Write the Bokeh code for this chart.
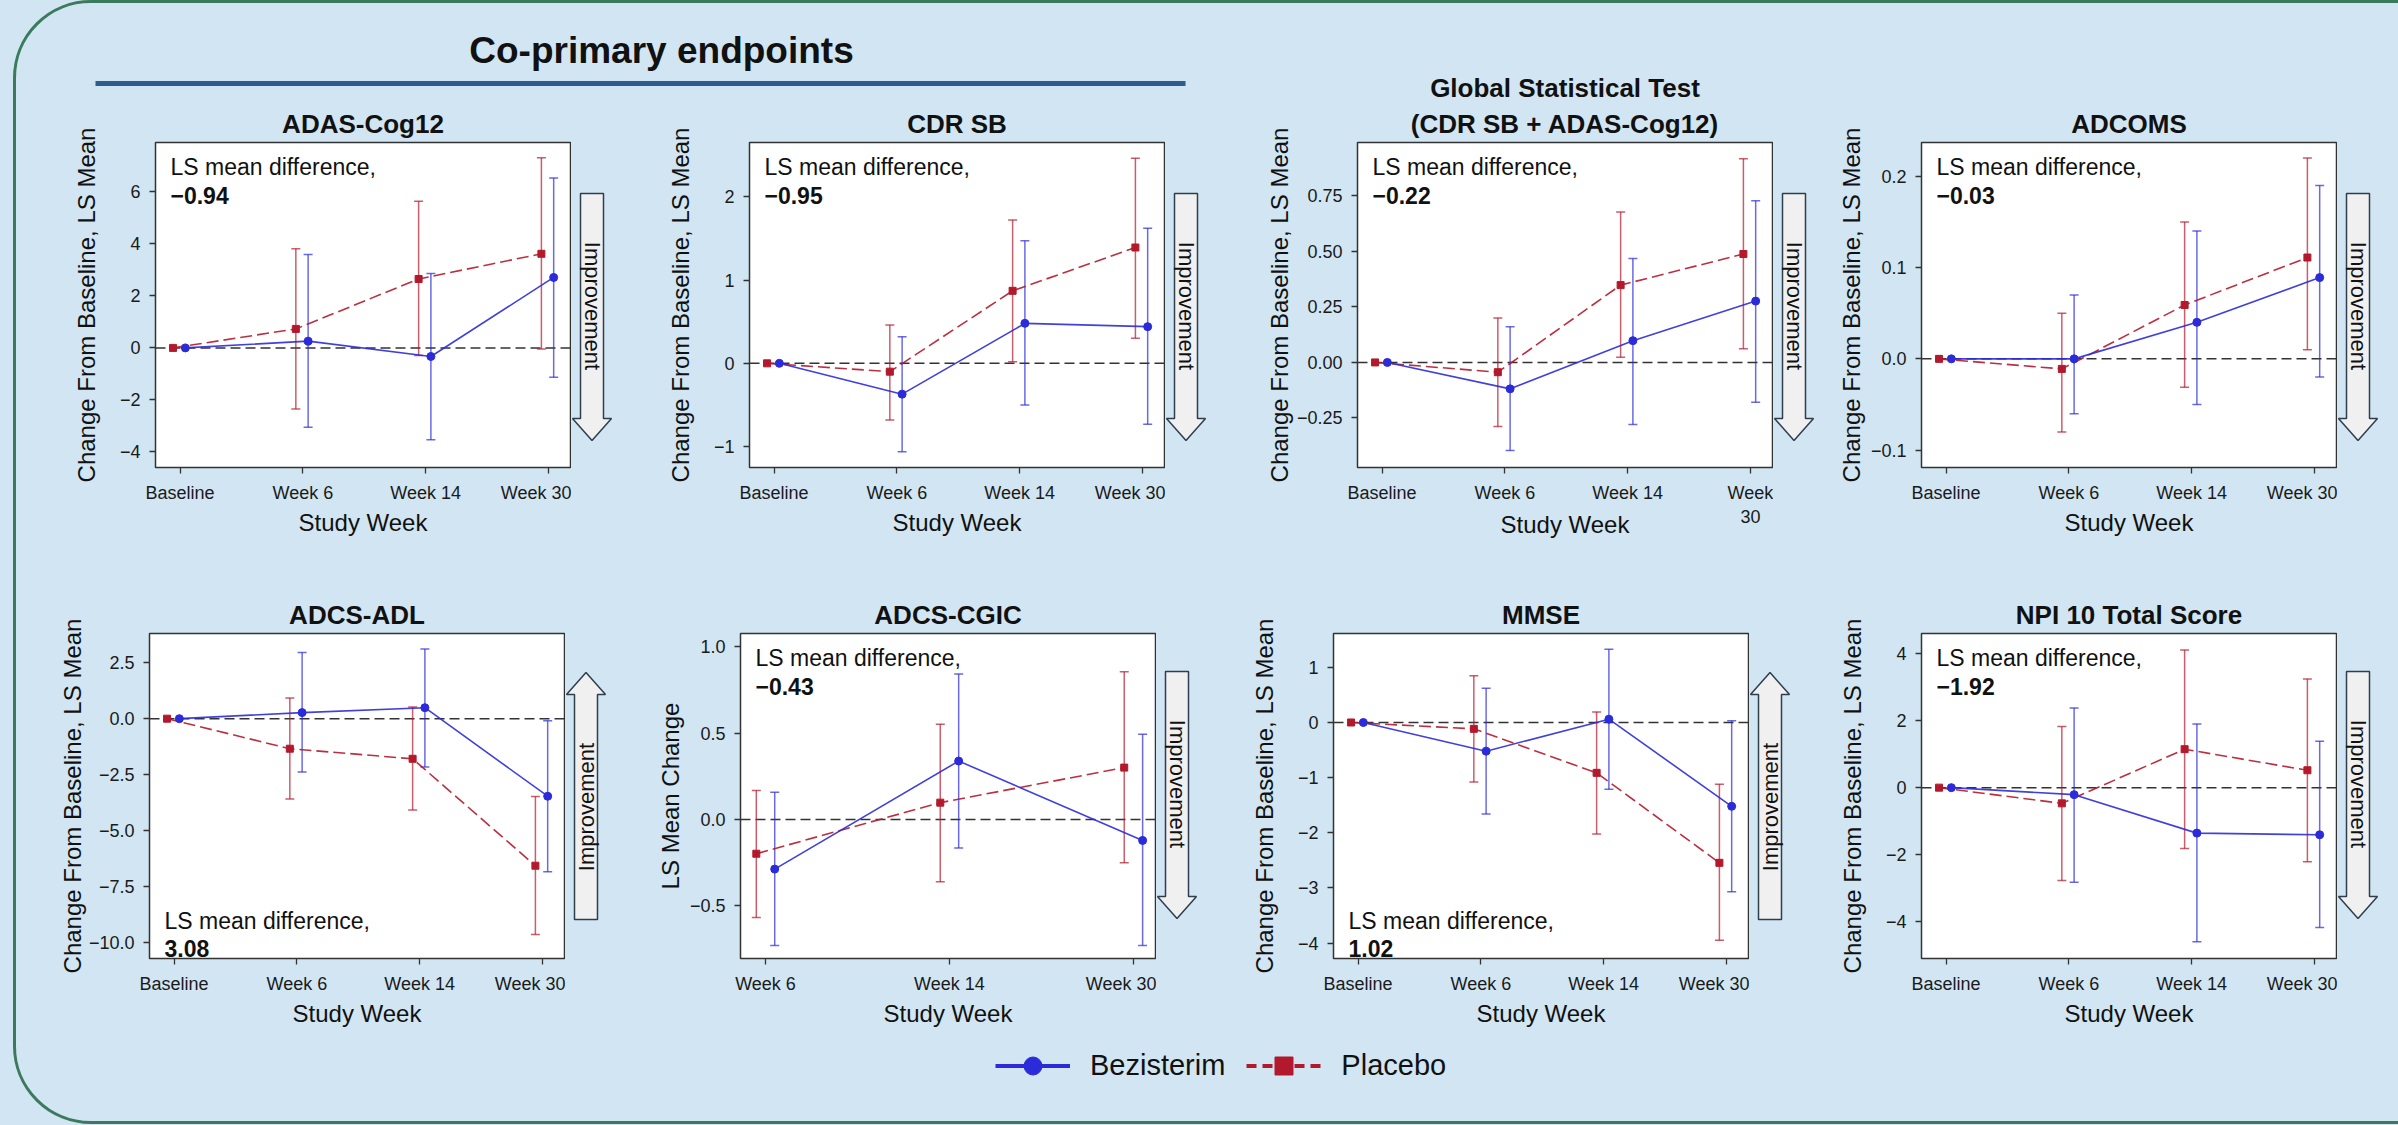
import numpy as np
from bokeh.plotting import figure
from bokeh.models import (Range1d, FixedTicker, CustomJSTickFormatter, Span, Label, Title,
                          Whisker, TeeHead, ColumnDataSource, Legend, LegendItem, GlobalInlineStyleSheet)
from bokeh.layouts import row, column
from bokeh.embed import file_html
from bokeh.resources import INLINE

# ---------------- data ----------------
WEEKS4 = ["Baseline", "Week 6", "Week 14", "Week 30"]
WEEKS4_WRAP = ["Baseline", "Week 6", "Week 14", "Week\n30"]
WEEKS3 = ["Week 6", "Week 14", "Week 30"]

ADAS_PLA = [0.0, 0.73, 2.65, 3.62]
ADAS_PLA_LO = [None, -2.35, -0.29, -0.04]
ADAS_PLA_HI = [None, 3.81, 5.64, 7.31]
ADAS_BEZ = [0.0, 0.26, -0.33, 2.71]
ADAS_BEZ_LO = [None, -3.05, -3.53, -1.13]
ADAS_BEZ_HI = [None, 3.59, 2.86, 6.53]

CDR_PLA = [0.0, -0.10, 0.87, 1.39]
CDR_PLA_LO = [None, -0.68, 0.02, 0.30]
CDR_PLA_HI = [None, 0.46, 1.72, 2.46]
CDR_BEZ = [0.0, -0.37, 0.48, 0.44]
CDR_BEZ_LO = [None, -1.06, -0.50, -0.73]
CDR_BEZ_HI = [None, 0.32, 1.47, 1.62]

GST_PLA = [0.0, -0.044, 0.348, 0.488]
GST_PLA_LO = [None, -0.288, 0.023, 0.062]
GST_PLA_HI = [None, 0.200, 0.677, 0.917]
GST_BEZ = [0.0, -0.119, 0.098, 0.276]
GST_BEZ_LO = [None, -0.396, -0.279, -0.179]
GST_BEZ_HI = [None, 0.161, 0.468, 0.728]

ADCOMS_PLA = [0.0, -0.011, 0.059, 0.111]
ADCOMS_PLA_LO = [None, -0.080, -0.031, 0.010]
ADCOMS_PLA_HI = [None, 0.050, 0.150, 0.220]
ADCOMS_BEZ = [0.0, 0.0, 0.040, 0.089]
ADCOMS_BEZ_LO = [None, -0.060, -0.050, -0.020]
ADCOMS_BEZ_HI = [None, 0.070, 0.140, 0.190]

ADL_PLA = [0.0, -1.34, -1.79, -6.56]
ADL_PLA_LO = [None, -3.58, -4.08, -9.63]
ADL_PLA_HI = [None, 0.92, 0.52, -3.47]
ADL_BEZ = [0.0, 0.27, 0.49, -3.46]
ADL_BEZ_LO = [None, -2.38, -2.16, -6.83]
ADL_BEZ_HI = [None, 2.95, 3.11, -0.09]

CGIC_PLA = [-0.199, 0.097, 0.300]
CGIC_PLA_LO = [-0.568, -0.361, -0.251]
CGIC_PLA_HI = [0.168, 0.551, 0.856]
CGIC_BEZ = [-0.288, 0.338, -0.122]
CGIC_BEZ_LO = [-0.731, -0.166, -0.731]
CGIC_BEZ_HI = [0.157, 0.843, 0.493]

MMSE_PLA = [0.0, -0.115, -0.913, -2.545]
MMSE_PLA_LO = [None, -1.08, -2.02, -3.95]
MMSE_PLA_HI = [None, 0.85, 0.19, -1.12]
MMSE_BEZ = [0.0, -0.52, 0.06, -1.52]
MMSE_BEZ_LO = [None, -1.66, -1.21, -3.07]
MMSE_BEZ_HI = [None, 0.62, 1.33, 0.03]

NPI_PLA = [0.0, -0.47, 1.15, 0.52]
NPI_PLA_LO = [None, -2.78, -1.82, -2.22]
NPI_PLA_HI = [None, 1.83, 4.12, 3.25]
NPI_BEZ = [0.0, -0.21, -1.36, -1.41]
NPI_BEZ_LO = [None, -2.83, -4.61, -4.18]
NPI_BEZ_HI = [None, 2.38, 1.90, 1.39]

LS_DIFF = ["\u22120.94", "\u22120.95", "\u22120.22", "\u22120.03", "3.08", "\u22120.43", "1.02", "\u22121.92"]

ADAS_TICKS = [-4, -2, 0, 2, 4, 6]
CDR_TICKS = [-1, 0, 1, 2]
GST_TICKS = [-0.25, 0.0, 0.25, 0.5, 0.75]
ADCOMS_TICKS = [-0.1, 0.0, 0.1, 0.2]
ADL_TICKS = [-10, -7.5, -5, -2.5, 0, 2.5]
CGIC_TICKS = [-0.5, 0.0, 0.5, 1.0]
MMSE_TICKS = [-4, -3, -2, -1, 0, 1]
NPI_TICKS = [-4, -2, 0, 2, 4]

# ---------------- style ----------------
FONT = "Liberation Sans"
BG = "#d1e6f2"
BLUE = "#2b2bd9"
RED = "#b3192c"
TXT = "#111111"
FW, FH = 415, 325
YLAB = "Change From Baseline, LS Mean"


def bare_fig(w, h, xr, yr, bt=0, bb=0):
    f = figure(width=w, height=h, x_range=Range1d(*xr), y_range=Range1d(*yr),
               x_axis_type=None, y_axis_type=None, min_border=0,
               min_border_top=bt, min_border_bottom=bb, outline_line_color=None,
               background_fill_color=BG, border_fill_color=BG,
               output_backend="svg", toolbar_location=None, tools="")
    f.grid.visible = False
    return f


def arrow_fig(w, h, bt, bb, direction, geom):
    """Block arrow with 'Improvement' text; pixel coords measured from the frame top."""
    f = bare_fig(w, h, (0, w), (FH, 0), bt, bb)
    bx0, bx1, hx0, hx1, cx = 9, 32, 1, 40, 20.5
    a, b, c = geom
    if direction == "down":
        pts = [(bx0, a), (bx1, a), (bx1, b), (hx1, b), (cx, c), (hx0, b), (bx0, b)]
        cy, ang = (a + b) / 2, -np.pi / 2
    else:
        pts = [(bx0, c), (bx0, b), (hx0, b), (cx, a), (hx1, b), (bx1, b), (bx1, c)]
        cy, ang = (b + c) / 2, np.pi / 2
    f.patch([q[0] for q in pts], [q[1] for q in pts], fill_color="#f0f0f0",
            line_color="#2f3e4e", line_width=1.5)
    f.add_layout(Label(x=cx, y=cy, text="Improvement", angle=ang, text_align="center",
                       text_baseline="middle", text_font=FONT, text_font_size="22px",
                       text_color=TXT))
    return f


def make_panel(title_lines, tick_labels, pla, pla_lo, pla_hi, bez, bez_lo, bez_hi,
               x_lim, y_lim, y_ticks, y_dec, y_label, diff, diff_pos, arrow_dir, arrow_geom,
               size, borders, offsets, ylab_standoff, xlab_standoff=3):
    w, h = size
    bl, br, bt, bb = borders
    pw = bl + FW + 1
    p = figure(width=pw, height=h, min_border_left=bl, min_border_right=1,
               min_border_top=bt, min_border_bottom=bb,
               x_range=Range1d(*x_lim), y_range=Range1d(*y_lim),
               output_backend="svg", toolbar_location=None, tools="")
    p.background_fill_color = "white"
    p.border_fill_color = BG
    p.outline_line_color = "#333333"
    p.outline_line_width = 1.5
    p.grid.visible = False

    n = len(tick_labels)
    idx = np.arange(n)
    p.xaxis.ticker = FixedTicker(ticks=[int(i) for i in idx])
    p.xaxis.major_label_overrides = {int(i): t for i, t in zip(idx, tick_labels)}
    p.yaxis.ticker = FixedTicker(ticks=list(y_ticks))
    p.yaxis.formatter = CustomJSTickFormatter(
        code="return (tick < 0 ? '\\u2212' : '') + Math.abs(tick).toFixed(%d);" % y_dec)
    for ax in (p.xaxis[0], p.yaxis[0]):
        ax.axis_line_color = None
        ax.major_tick_out = 6
        ax.major_tick_in = 0
        ax.major_tick_line_color = "#333333"
        ax.major_tick_line_width = 1.3
        ax.minor_tick_line_color = None
        ax.major_label_text_font = FONT
        ax.major_label_text_font_size = "18px"
        ax.major_label_text_color = "#1a1a1a"
        ax.major_label_standoff = 9
        ax.axis_label_text_font = FONT
        ax.axis_label_text_font_size = "24px"
        ax.axis_label_text_font_style = "normal"
        ax.axis_label_text_color = TXT
    p.xaxis.axis_label = "Study Week"
    p.xaxis.axis_label_standoff = xlab_standoff
    p.yaxis.axis_label = y_label
    p.yaxis.axis_label_standoff = ylab_standoff

    # titles: p.title is the outermost line; each added Title sits nearer the frame
    titles = [p.title] + [Title(text=s) for s in title_lines[1:]]
    p.title.text = title_lines[0]
    for k, t in enumerate(titles):
        t.align = "center"
        t.offset = -10
        t.standoff = 7 if k == len(titles) - 1 else 2
        t.text_font = FONT
        t.text_font_size = "26px"
        t.text_font_style = "bold"
        t.text_color = TXT
        if k > 0:
            p.add_layout(t, "above")

    p.add_layout(Span(location=0, dimension="width", line_color="#333333", line_dash="10 5",
                      line_width=1.5, level="underlay"))

    def series(vals, lo, hi, off, color, marker, msize, dash):
        xs = idx + off
        p.line(xs, vals, line_color=color, line_width=1.6, line_dash=dash, line_alpha=0.9)
        keep = [i for i in range(n) if lo[i] is not None]
        src = ColumnDataSource(dict(base=[float(xs[i]) for i in keep],
                                    lower=[lo[i] for i in keep],
                                    upper=[hi[i] for i in keep]))
        head = dict(size=9, line_color=color, line_alpha=0.7, line_width=1.5)
        p.add_layout(Whisker(source=src, base="base", lower="lower", upper="upper",
                             dimension="height", line_color=color, line_alpha=0.7, line_width=1.5,
                             upper_head=TeeHead(**head), lower_head=TeeHead(**head)))
        p.scatter(xs, vals, marker=marker, size=msize, fill_color=color, line_color=color)

    series(pla, pla_lo, pla_hi, offsets[0], RED, "square", 7, "12 5")
    series(bez, bez_lo, bez_hi, offsets[1], BLUE, "circle", 8, "solid")

    xs0, xs1 = x_lim
    ys0, ys1 = y_lim
    if diff_pos == "top":
        yb, o1, o2 = ys1, -24, -53
    else:
        yb, o1, o2 = ys0, 38, 10
    p.add_layout(Label(x=xs0, y=yb, x_offset=15, y_offset=o1, text="LS mean difference,",
                       text_baseline="alphabetic", text_font=FONT, text_font_size="23px",
                       text_color=TXT))
    p.add_layout(Label(x=xs0, y=yb, x_offset=15, y_offset=o2, text=diff,
                       text_baseline="alphabetic", text_font=FONT, text_font_size="23px",
                       text_font_style="bold", text_color=TXT))

    af = arrow_fig(w - pw, h, bt, bb, arrow_dir, arrow_geom)
    return row(p, af)


X4 = (-0.2, 3.18)
X3 = (-0.136, 2.12)
OFF4 = (-0.057, 0.043)
OFF3 = (-0.05, 0.05)
TOP_ARROW = (51, 276, 298)
BOT_DOWN = (38, 263, 285)
BOT_UP = (39, 61, 286)

p1 = make_panel(["ADAS-Cog12"], WEEKS4, ADAS_PLA, ADAS_PLA_LO, ADAS_PLA_HI, ADAS_BEZ, ADAS_BEZ_LO, ADAS_BEZ_HI,
                X4, (-4.6, 7.9), ADAS_TICKS, 0, YLAB, LS_DIFF[0], "top", "down", TOP_ARROW,
                (632, 482), (147, 70, 54, 103), OFF4, 17)
p2 = make_panel(["CDR SB"], WEEKS4, CDR_PLA, CDR_PLA_LO, CDR_PLA_HI, CDR_BEZ, CDR_BEZ_LO, CDR_BEZ_HI,
                X4, (-1.25, 2.65), CDR_TICKS, 0, YLAB, LS_DIFF[1], "top", "down", TOP_ARROW,
                (596, 482), (109, 72, 54, 103), OFF4, 17)
p3 = make_panel(["Global Statistical Test", "(CDR SB + ADAS-Cog12)"], WEEKS4_WRAP,
                GST_PLA, GST_PLA_LO, GST_PLA_HI, GST_BEZ, GST_BEZ_LO, GST_BEZ_HI,
                X4, (-0.473, 0.99), GST_TICKS, 2, YLAB, LS_DIFF[2], "top", "down", TOP_ARROW,
                (590, 562), (121, 54, 134, 103), OFF4, 1, xlab_standoff=-19)
p4 = make_panel(["ADCOMS"], WEEKS4, ADCOMS_PLA, ADCOMS_PLA_LO, ADCOMS_PLA_HI, ADCOMS_BEZ, ADCOMS_BEZ_LO,
                ADCOMS_BEZ_HI, X4, (-0.119, 0.237), ADCOMS_TICKS, 1, YLAB, LS_DIFF[3], "top", "down",
                TOP_ARROW, (564, 562), (95, 54, 134, 103), OFF4, 3)
p5 = make_panel(["ADCS-ADL"], WEEKS4, ADL_PLA, ADL_PLA_LO, ADL_PLA_HI, ADL_BEZ, ADL_BEZ_LO, ADL_BEZ_HI,
                X4, (-10.7, 3.8), ADL_TICKS, 1, YLAB, LS_DIFF[4], "bottom", "up", BOT_UP,
                (622, 470), (141, 66, 63, 82), OFF4, 0)
p6 = make_panel(["ADCS-CGIC"], WEEKS3, CGIC_PLA, CGIC_PLA_LO, CGIC_PLA_HI, CGIC_BEZ, CGIC_BEZ_LO, CGIC_BEZ_HI,
                X3, (-0.806, 1.077), CGIC_TICKS, 1, "LS Mean Change", LS_DIFF[5], "top", "down", BOT_DOWN,
                (594, 470), (110, 69, 63, 82), OFF3, 3)
p7 = make_panel(["MMSE"], WEEKS4, MMSE_PLA, MMSE_PLA_LO, MMSE_PLA_HI, MMSE_BEZ, MMSE_BEZ_LO, MMSE_BEZ_HI,
                X4, (-4.28, 1.614), MMSE_TICKS, 0, YLAB, LS_DIFF[6], "bottom", "up", BOT_UP,
                (590, 470), (109, 66, 63, 82), OFF4, 17)
p8 = make_panel(["NPI 10 Total Score"], WEEKS4, NPI_PLA, NPI_PLA_LO, NPI_PLA_HI, NPI_BEZ, NPI_BEZ_LO, NPI_BEZ_HI,
                X4, (-5.11, 4.61), NPI_TICKS, 0, YLAB, LS_DIFF[7], "top", "down", BOT_DOWN,
                (576, 470), (107, 54, 63, 82), OFF4, 17)

# header (Co-primary endpoints) in page-pixel coordinates
hdr = bare_fig(1228, 80, (8, 1236), (88, 8))
hdr.add_layout(Label(x=661, y=50, text="Co-primary endpoints", text_align="center",
                     text_baseline="middle", text_font=FONT, text_font_size="37px",
                     text_font_style="bold", text_color=TXT))
hdr.segment(x0=[95], y0=[83], x1=[1185], y1=[83], line_color="#2f5d8c", line_width=5)

# legend strip (legend renderers hold one point outside the visible range)
lf = bare_fig(2382, 75, (0, 1), (0, 1))
r1 = lf.line([-5, -4], [-5, -5], line_color=BLUE, line_width=4)
r2 = lf.scatter([-5], [-5], marker="circle", size=18, fill_color=BLUE, line_color=BLUE)
r3 = lf.line([-5, -4], [-5, -5], line_color=RED, line_width=4, line_dash="10 6")
r4 = lf.scatter([-5], [-5], marker="square", size=18, fill_color=RED, line_color=RED)
leg = Legend(items=[LegendItem(label="Bezisterim", renderers=[r1, r2]),
                    LegendItem(label="Placebo", renderers=[r3, r4])],
             orientation="horizontal", location=(987, 27), glyph_width=75, glyph_height=45,
             label_standoff=20, spacing=21, padding=0, margin=0,
             background_fill_alpha=0, border_line_color=None,
             label_text_font=FONT, label_text_font_size="29px", label_text_color=TXT)
lf.add_layout(leg)

css = """
html, body { background-color: #d1e6f2; overflow: hidden; }
body { padding: 8px !important; margin: 0 !important; }
body::after { content: ""; position: fixed; left: 13px; top: 0px; width: 2470px; height: 1124px;
  box-sizing: border-box; border: 3px solid #3b7a5c; border-radius: 78px;
  pointer-events: none; z-index: 1000; }
"""

top = row(column(hdr, row(p1, p2)), p3, p4)
bottom = row(p5, p6, p7, p8)
root = column(top, bottom, lf, stylesheets=[GlobalInlineStyleSheet(css=css)])

open("out.html", "w").write(file_html(root, INLINE))
